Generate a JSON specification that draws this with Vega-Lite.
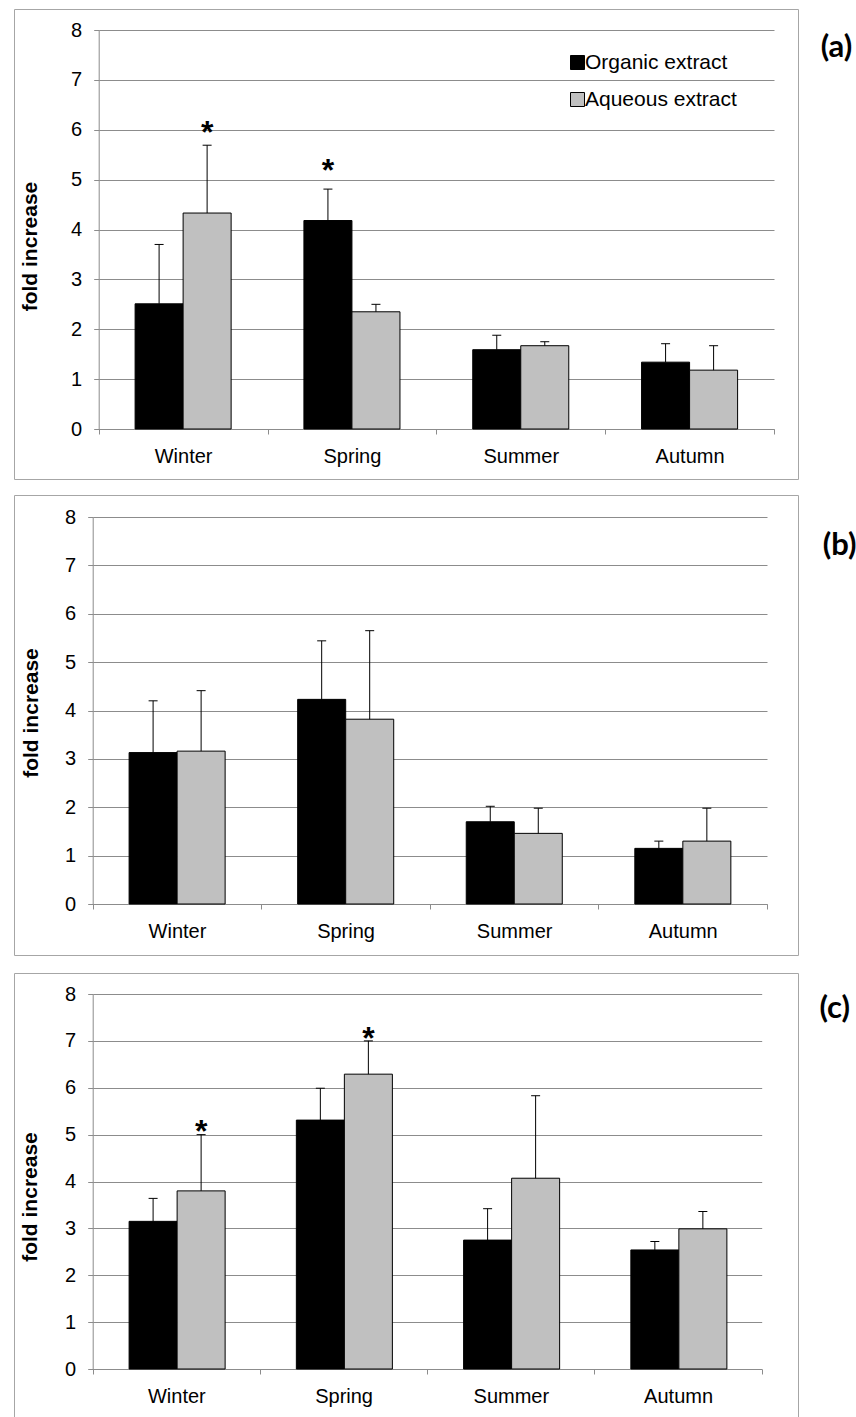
{
  "$schema": "https://vega.github.io/schema/vega-lite/v6.json",
  "padding": {"left": 13, "top": 8, "right": 0, "bottom": 0},
  "datasets": {
    "a": [
      {"season": "Winter", "extract": "Organic extract", "value": 2.51, "upper": 3.70, "star": null},
      {"season": "Winter", "extract": "Aqueous extract", "value": 4.33, "upper": 5.69, "star": 6.10},
      {"season": "Spring", "extract": "Organic extract", "value": 4.18, "upper": 4.81, "star": 5.33},
      {"season": "Spring", "extract": "Aqueous extract", "value": 2.35, "upper": 2.50, "star": null},
      {"season": "Summer", "extract": "Organic extract", "value": 1.59, "upper": 1.88, "star": null},
      {"season": "Summer", "extract": "Aqueous extract", "value": 1.67, "upper": 1.75, "star": null},
      {"season": "Autumn", "extract": "Organic extract", "value": 1.34, "upper": 1.71, "star": null},
      {"season": "Autumn", "extract": "Aqueous extract", "value": 1.18, "upper": 1.67, "star": null}
    ],
    "b": [
      {"season": "Winter", "extract": "Organic extract", "value": 3.13, "upper": 4.20, "star": null},
      {"season": "Winter", "extract": "Aqueous extract", "value": 3.16, "upper": 4.41, "star": null},
      {"season": "Spring", "extract": "Organic extract", "value": 4.23, "upper": 5.44, "star": null},
      {"season": "Spring", "extract": "Aqueous extract", "value": 3.82, "upper": 5.65, "star": null},
      {"season": "Summer", "extract": "Organic extract", "value": 1.70, "upper": 2.02, "star": null},
      {"season": "Summer", "extract": "Aqueous extract", "value": 1.46, "upper": 1.98, "star": null},
      {"season": "Autumn", "extract": "Organic extract", "value": 1.15, "upper": 1.30, "star": null},
      {"season": "Autumn", "extract": "Aqueous extract", "value": 1.30, "upper": 1.98, "star": null}
    ],
    "c": [
      {"season": "Winter", "extract": "Organic extract", "value": 3.15, "upper": 3.64, "star": null},
      {"season": "Winter", "extract": "Aqueous extract", "value": 3.80, "upper": 5.00, "star": 5.23},
      {"season": "Spring", "extract": "Organic extract", "value": 5.31, "upper": 5.99, "star": null},
      {"season": "Spring", "extract": "Aqueous extract", "value": 6.29, "upper": 7.00, "star": 7.22},
      {"season": "Summer", "extract": "Organic extract", "value": 2.75, "upper": 3.42, "star": null},
      {"season": "Summer", "extract": "Aqueous extract", "value": 4.07, "upper": 5.83, "star": null},
      {"season": "Autumn", "extract": "Organic extract", "value": 2.54, "upper": 2.72, "star": null},
      {"season": "Autumn", "extract": "Aqueous extract", "value": 2.99, "upper": 3.36, "star": null}
    ]
  },
  "vconcat": [
    {
      "spacing": 14,
      "vconcat": [
        {
          "width": 784, "height": 470,
          "data": {"name": "a"},
          "title": {"text": "(a)", "dy": 24},
          "encoding": {
            "x": {"field": "season", "type": "nominal", "title": null, "sort": ["Winter", "Spring", "Summer", "Autumn"], "scale": {"range": [84.7, 760], "paddingInner": 0, "paddingOuter": 0}, "axis": {"offset": -50}},
            "xOffset": {"field": "extract", "type": "nominal", "sort": ["Organic extract", "Aqueous extract"], "scale": {"paddingInner": 0, "paddingOuter": 0.758}}
          },
          "layer": [
            {
              "mark": {"type": "bar", "stroke": "black", "strokeWidth": 1},
              "encoding": {
                "y": {"field": "value", "type": "quantitative", "title": "fold increase", "scale": {"domain": [0, 8], "range": [420, 21], "nice": false}, "axis": {"values": [0, 1, 2, 3, 4, 5, 6, 7, 8], "format": "d", "offset": -84.7, "titleX": -68.7, "titleY": 237}},
                "color": {"field": "extract", "type": "nominal", "sort": ["Organic extract", "Aqueous extract"], "scale": {"domain": ["Organic extract", "Aqueous extract"], "range": ["#000000", "#c0c0c0"]}, "legend": {"legendX": 553, "legendY": 43, "rowPadding": 15}}
              }
            },
            {
              "mark": {"type": "rule", "color": "black", "strokeWidth": 1},
              "encoding": {"y": {"field": "value", "type": "quantitative", "title": "fold increase"}, "y2": {"field": "upper"}}
            },
            {
              "mark": {"type": "point", "shape": "M-1,0L1,0", "size": 81, "filled": false, "color": "black", "strokeWidth": 1, "opacity": 1},
              "encoding": {"y": {"field": "upper", "type": "quantitative", "title": "fold increase"}}
            },
            {
              "transform": [{"filter": "datum.star != null"}],
              "mark": {"type": "text", "text": "*", "font": "Liberation Sans", "fontWeight": "bold", "fontSize": 32, "baseline": "alphabetic", "dy": 18, "color": "black"},
              "encoding": {"y": {"field": "star", "type": "quantitative", "title": "fold increase"}}
            }
          ]
        },
        {
          "width": 784, "height": 460,
          "data": {"name": "b"},
          "title": {"text": "(b)", "dy": 36},
          "encoding": {
            "x": {"field": "season", "type": "nominal", "title": null, "sort": ["Winter", "Spring", "Summer", "Autumn"], "scale": {"range": [78.7, 753], "paddingInner": 0, "paddingOuter": 0}, "axis": {"offset": -51}},
            "xOffset": {"field": "extract", "type": "nominal", "sort": ["Organic extract", "Aqueous extract"], "scale": {"paddingInner": 0, "paddingOuter": 0.758}}
          },
          "layer": [
            {
              "mark": {"type": "bar", "stroke": "black", "strokeWidth": 1},
              "encoding": {
                "y": {"field": "value", "type": "quantitative", "title": "fold increase", "scale": {"domain": [0, 8], "range": [409, 22], "nice": false}, "axis": {"values": [0, 1, 2, 3, 4, 5, 6, 7, 8], "format": "d", "offset": -78.7, "titleX": -61, "titleY": 217.5}},
                "color": {"field": "extract", "type": "nominal", "sort": ["Organic extract", "Aqueous extract"], "scale": {"domain": ["Organic extract", "Aqueous extract"], "range": ["#000000", "#c0c0c0"]}, "legend": {"legendX": 553, "legendY": 44, "rowPadding": 19}}
              }
            },
            {
              "mark": {"type": "rule", "color": "black", "strokeWidth": 1},
              "encoding": {"y": {"field": "value", "type": "quantitative", "title": "fold increase"}, "y2": {"field": "upper"}}
            },
            {
              "mark": {"type": "point", "shape": "M-1,0L1,0", "size": 81, "filled": false, "color": "black", "strokeWidth": 1, "opacity": 1},
              "encoding": {"y": {"field": "upper", "type": "quantitative", "title": "fold increase"}}
            }
          ]
        }
      ]
    },
    {
      "width": 784, "height": 446,
      "data": {"name": "c"},
      "title": {"text": "(c)", "dy": 21},
      "encoding": {
        "x": {"field": "season", "type": "nominal", "title": null, "sort": ["Winter", "Spring", "Summer", "Autumn"], "scale": {"range": [78.7, 747.7], "paddingInner": 0, "paddingOuter": 0}, "axis": {"offset": -50}},
        "xOffset": {"field": "extract", "type": "nominal", "sort": ["Organic extract", "Aqueous extract"], "scale": {"paddingInner": 0, "paddingOuter": 0.758}}
      },
      "layer": [
        {
          "mark": {"type": "bar", "stroke": "black", "strokeWidth": 1},
          "encoding": {
            "y": {"field": "value", "type": "quantitative", "title": "fold increase", "scale": {"domain": [0, 8], "range": [396, 21], "nice": false}, "axis": {"values": [0, 1, 2, 3, 4, 5, 6, 7, 8], "format": "d", "offset": -78.7, "titleX": -62, "titleY": 223.5}},
            "color": {"field": "extract", "type": "nominal", "sort": ["Organic extract", "Aqueous extract"], "scale": {"domain": ["Organic extract", "Aqueous extract"], "range": ["#000000", "#c0c0c0"]}, "legend": {"legendX": 553, "legendY": 41, "rowPadding": 18}}
          }
        },
        {
          "mark": {"type": "rule", "color": "black", "strokeWidth": 1},
          "encoding": {"y": {"field": "value", "type": "quantitative", "title": "fold increase"}, "y2": {"field": "upper"}}
        },
        {
          "mark": {"type": "point", "shape": "M-1,0L1,0", "size": 81, "filled": false, "color": "black", "strokeWidth": 1, "opacity": 1},
          "encoding": {"y": {"field": "upper", "type": "quantitative", "title": "fold increase"}}
        },
        {
          "transform": [{"filter": "datum.star != null"}],
          "mark": {"type": "text", "text": "*", "font": "Liberation Sans", "fontWeight": "bold", "fontSize": 32, "baseline": "alphabetic", "dy": 18, "color": "black"},
          "encoding": {"y": {"field": "star", "type": "quantitative", "title": "fold increase"}}
        }
      ]
    }
  ],
  "spacing": 16,
  "config": {
    "font": "Liberation Sans",
    "view": {"stroke": "#a6a6a6", "strokeWidth": 1},
    "axis": {"domainColor": "#8c8c8c", "tickColor": "#8c8c8c", "tickSize": 5, "labelColor": "black", "labelFont": "Liberation Sans", "labelFontSize": 20, "titleColor": "black", "titleFont": "Liberation Sans"},
    "axisX": {"tickBand": "extent", "labelAngle": 0, "labelPadding": 12, "grid": false},
    "axisY": {"grid": true, "gridColor": "#8c8c8c", "gridWidth": 1, "labelPadding": 12, "titleFontSize": 21, "titleFontWeight": "bold", "titleAngle": -90, "titleBaseline": "middle", "titleAlign": "center"},
    "legend": {"orient": "none", "title": null, "direction": "vertical", "padding": 0, "symbolType": "square", "symbolSize": 196, "symbolStrokeColor": "black", "symbolStrokeWidth": 1, "symbolOpacity": 1, "labelFont": "Liberation Sans", "labelFontSize": 21, "labelColor": "black", "labelOffset": -3},
    "title": {"orient": "right", "anchor": "start", "frame": "group", "angle": 0, "align": "left", "baseline": "middle", "offset": -9, "font": "Lato", "fontSize": 31, "fontWeight": "bold", "color": "black"}
  }
}
